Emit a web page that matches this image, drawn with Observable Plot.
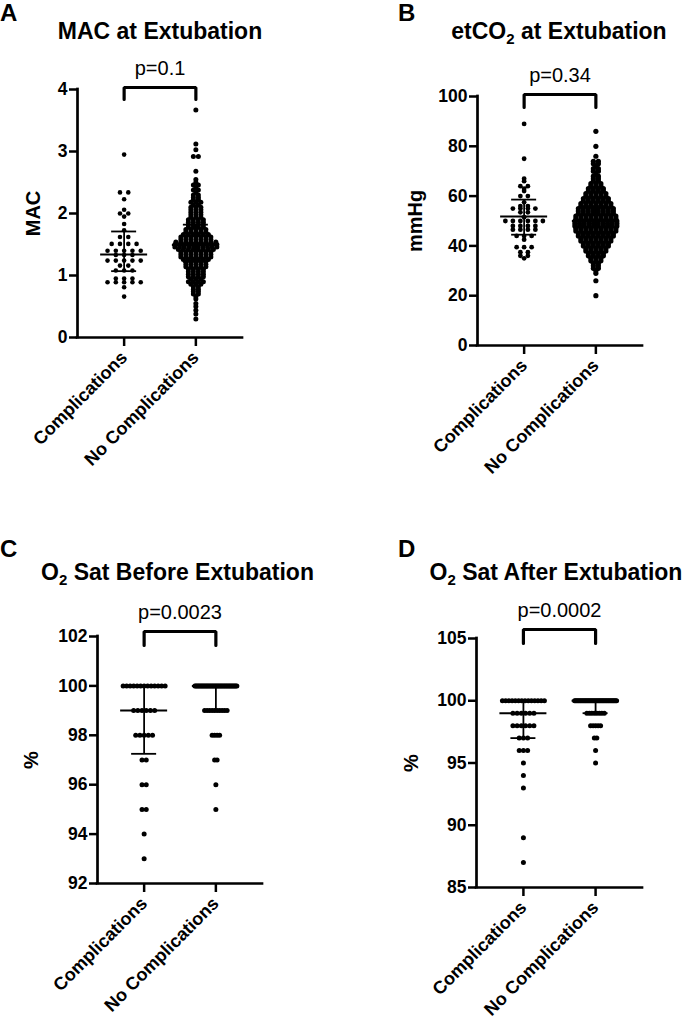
<!DOCTYPE html>
<html>
<head>
<meta charset="utf-8">
<script src="https://cdn.jsdelivr.net/npm/d3@7"></script>
<script src="https://cdn.jsdelivr.net/npm/@observablehq/plot@0.6"></script>
<style>
  body { margin: 0; background: #fff; }
  #root { position: relative; width: 685px; height: 1025px; overflow: hidden; background: #fff;
          font-family: "Liberation Sans", Arial, sans-serif; }
  .panel { position: absolute; }
  .panel svg { overflow: visible; }
  #overlay { position: absolute; left: 0; top: 0; pointer-events: none; }
</style>
</head>
<body>
<div id="root"></div>
<script>
// ---------- data ----------
const categories = ["Complications", "No Complications"];
const panelLetters = ["A", "B", "C", "D"];
const pValues = ["p=0.1", "p=0.34", "p=0.0023", "p=0.0002"];

// Panel A: MAC at Extubation (value rows and number of dots in each row)
const aCompValues = [2.95, 2.34, 2.23, 2.06, 2.00, 1.95, 1.83, 1.73, 1.62, 1.51, 1.40, 1.33, 1.24, 1.16, 1.08, 0.95, 0.89, 0.81, 0.66];
const aCompCounts = [1, 2, 1, 1, 2, 1, 1, 1, 2, 4, 5, 3, 5, 2, 3, 3, 5, 1, 1];
const aNoCompValues = [3.67, 3.12, 3.03, 2.92, 2.68, 2.55, 2.50, 2.46, 2.42, 2.38, 2.34, 2.30, 2.26, 2.22, 2.18, 2.14, 2.10, 2.06, 2.02, 1.98, 1.94, 1.90, 1.86, 1.82, 1.78, 1.74, 1.70, 1.66, 1.62, 1.58, 1.54, 1.50, 1.46, 1.42, 1.38, 1.34, 1.30, 1.26, 1.22, 1.18, 1.14, 1.10, 1.06, 1.02, 0.98, 0.94, 0.90, 0.86, 0.82, 0.78, 0.74, 0.70, 0.66, 0.62, 0.55, 0.50, 0.44, 0.38, 0.30];
const aNoCompCounts = [1, 1, 1, 2, 1, 1, 1, 2, 1, 2, 1, 2, 2, 2, 3, 2, 3, 3, 3, 3, 3, 4, 4, 4, 4, 5, 5, 6, 7, 7, 9, 10, 10, 8, 7, 7, 7, 6, 5, 5, 5, 4, 4, 4, 4, 3, 4, 3, 2, 2, 2, 2, 1, 1, 1, 1, 1, 1, 1];
const aMedian = [1.34, 1.49];
const aQ1 = [1.07, 1.22];
const aQ3 = [1.71, 1.82];
const aTicks = [0, 1, 2, 3, 4];

// Panel B: etCO2 at Extubation (mmHg)
const bCompValues = [89, 75, 67, 66, 64, 63, 62, 60, 57.5, 56, 55, 53.5, 51.5, 50, 48, 46.5, 44, 42.5, 39.5, 37.5, 36, 35];
const bCompCounts = [1, 1, 1, 1, 2, 1, 1, 2, 1, 2, 4, 2, 1, 6, 4, 4, 3, 1, 3, 2, 2, 1];
const bNoCompValues = [86, 80, 76, 74, 73, 72, 71, 70, 69, 68, 67, 66, 65, 64, 63, 62, 61, 60, 59, 58, 57, 56, 55, 54, 53, 52, 51, 50, 49, 48, 47, 46, 45, 44, 43, 42, 41, 40, 39, 38, 37, 36, 35, 34, 33, 32, 31, 30, 29, 26, 20];
const bNoCompCounts = [1, 1, 1, 2, 2, 1, 2, 2, 1, 2, 2, 2, 3, 3, 4, 4, 5, 5, 6, 6, 7, 7, 8, 8, 8, 9, 9, 10, 10, 10, 9, 9, 8, 8, 7, 7, 6, 6, 5, 5, 4, 4, 3, 3, 2, 2, 2, 1, 1, 1, 1];
const bMedian = [51.8, 50];
const bQ1 = [44.5, 45];
const bQ3 = [58.6, 56];
const bTicks = [0, 20, 40, 60, 80, 100];

// Panel C: O2 Sat Before Extubation (%)
const cCompValues = [100, 99, 98, 97, 96, 95, 94, 93];
const cCompCounts = [13, 6, 5, 2, 2, 2, 1, 1];
const cNoCompValues = [100, 99, 98, 97, 96, 95];
const cNoCompCounts = [40, 10, 4, 2, 1, 1];
const cMedian = [99, 100];
const cQ1 = [97.25, 99];
const cQ3 = [100, 100];
const cTicks = [92, 94, 96, 98, 100, 102];

// Panel D: O2 Sat After Extubation (%)
const dCompValues = [100, 99, 98, 97, 96, 95, 94, 93, 89, 87];
const dCompCounts = [14, 6, 6, 3, 3, 1, 1, 1, 1, 1];
const dNoCompValues = [100, 99, 98, 97, 96, 95];
const dNoCompCounts = [40, 8, 5, 2, 1, 1];
const dMedian = [99, 100];
const dQ1 = [97, 99];
const dQ3 = [100, 100];
const dTicks = [85, 90, 95, 100, 105];

// ---------- layout ----------
const FONT = '"Liberation Sans", Arial, sans-serif';
const X_DOMAIN = [-0.65, 1.65];
const MAX_SPREAD = 42;   // px, centre-to-centre width of a dot row
const MED_HALF_PX = 23.5;
const Q_HALF_PX = 12.5;

const panels = [
  { title: ["MAC at Extubation"], titleX: 160, titleY: 39, letterX: 0, letterY: 21,
    left: 0, top: 42, w: 342, h: 460, x0: 77, x1: 242, yTop: 89, yBot: 337,
    yDomain: [0, 4], ticks: aTicks, label: "MAC", labelOffset: 52, r: [2.3, 2.5],
    spacing: [8.3, 5], brTop: 2, brLeg: 12,
    groups: [[aCompValues, aCompCounts], [aNoCompValues, aNoCompCounts]],
    med: aMedian, q1: aQ1, q3: aQ3 },
  { title: ["etCO", "2", " at Extubation"], titleX: 559, titleY: 39, letterX: 398, letterY: 21,
    left: 340, top: 42, w: 345, h: 460, x0: 477, x1: 642, yTop: 96, yBot: 345,
    yDomain: [0, 100], ticks: bTicks, label: "mmHg", labelOffset: 70, r: [2.4, 2.6],
    spacing: [7.5, 5], brTop: 2, brLeg: 13,
    groups: [[bCompValues, bCompCounts], [bNoCompValues, bNoCompCounts]],
    med: bMedian, q1: bQ1, q3: bQ3 },
  { title: ["O", "2", " Sat Before Extubation"], titleX: 177.5, titleY: 580, letterX: 0, letterY: 557,
    left: 0, top: 590, w: 342, h: 435, x0: 97, x1: 262, yTop: 636, yBot: 883,
    yDomain: [92, 102], ticks: cTicks, label: "%", labelOffset: 74, r: [2.5, 2.5],
    spacing: [4.2, 2.5], brTop: 5, brLeg: 14,
    groups: [[cCompValues, cCompCounts], [cNoCompValues, cNoCompCounts]],
    med: cMedian, q1: cQ1, q3: cQ3 },
  { title: ["O", "2", " Sat After Extubation"], titleX: 556, titleY: 580, letterX: 398, letterY: 557,
    left: 340, top: 590, w: 345, h: 435, x0: 476, x1: 642, yTop: 638, yBot: 887,
    yDomain: [85, 105], ticks: dTicks, label: "%", labelOffset: 73, r: [2.5, 2.5],
    spacing: [4.2, 2.5], brTop: 9, brLeg: 14,
    groups: [[dCompValues, dCompCounts], [dNoCompValues, dNoCompCounts]],
    med: dMedian, q1: dQ1, q3: dQ3 }
];

// Column-scatter layout: dots with the same value share a row, spread symmetrically
function swarm(values, counts, catIndex, spacingPx, pxPerUnit, r) {
  const out = [];
  values.forEach((v, j) => {
    const n = counts[j];
    const s = n > 1 ? Math.min(spacingPx, MAX_SPREAD / (n - 1)) : 0;
    for (let i = 0; i < n; i++) {
      out.push({ x: catIndex + ((i - (n - 1) / 2) * s) / pxPerUnit, y: v, r, group: categories[catIndex] });
    }
  });
  return out;
}

const root = document.getElementById("root");

panels.forEach((cfg, k) => {
  const pxX = (cfg.x1 - cfg.x0) / (X_DOMAIN[1] - X_DOMAIN[0]);
  const pxY = (cfg.yBot - cfg.yTop) / (cfg.yDomain[1] - cfg.yDomain[0]);
  const dots = cfg.groups.flatMap(([vals, cnts], i) => swarm(vals, cnts, i, cfg.spacing[i], pxX, cfg.r[i]));
  const stats = [0, 1].map(i => ({ x: i, med: cfg.med[i], q1: cfg.q1[i], q3: cfg.q3[i] }));
  const medHalf = MED_HALF_PX / pxX, qHalf = Q_HALF_PX / pxX;
  const brTop = cfg.yDomain[1] + cfg.brTop / pxY;
  const brLeg = brTop - cfg.brLeg / pxY;

  const chart = Plot.plot({
    width: cfg.w,
    height: cfg.h,
    marginLeft: cfg.x0 - cfg.left,
    marginRight: cfg.left + cfg.w - cfg.x1,
    marginTop: cfg.yTop - cfg.top,
    marginBottom: cfg.top + cfg.h - cfg.yBot,
    x: { domain: X_DOMAIN },
    y: { domain: cfg.yDomain },
    r: { type: "identity" },
    style: { fontFamily: FONT, color: "black", background: "transparent", overflow: "visible" },
    marks: [
      Plot.axisY({ ticks: cfg.ticks, tickSize: 8, tickPadding: 2, tickFormat: d => String(d),
        fontSize: 17.5, fontWeight: "bold", strokeWidth: 2.5, label: null }),
      Plot.axisX({ ticks: [0, 1], tickFormat: i => categories[i], tickRotate: -45,
        tickSize: 9, tickPadding: 8, fontSize: 18, fontWeight: "bold", strokeWidth: 2.5, label: null }),
      Plot.text([cfg.label], { text: d => d, frameAnchor: "left", rotate: -90, dx: -cfg.labelOffset,
        lineAnchor: "top", textAnchor: "middle", fontSize: 20, fontWeight: "bold" }),
      Plot.ruleX([X_DOMAIN[0]], { strokeWidth: 2.7, strokeLinecap: "square" }),
      Plot.ruleY([cfg.yDomain[0]], { strokeWidth: 2.7, strokeLinecap: "square" }),
      Plot.dot(dots, { x: "x", y: "y", r: "r", fill: "black", stroke: "none" }),
      Plot.ruleX(stats, { x: "x", y1: "q1", y2: "q3", strokeWidth: 1.8 }),
      Plot.ruleY(stats, { y: "med", x1: d => d.x - medHalf, x2: d => d.x + medHalf, strokeWidth: 2 }),
      Plot.ruleY(stats, { y: "q1", x1: d => d.x - qHalf, x2: d => d.x + qHalf, strokeWidth: 1.8 }),
      Plot.ruleY(stats, { y: "q3", x1: d => d.x - qHalf, x2: d => d.x + qHalf, strokeWidth: 1.8 }),
      Plot.line([[0, brLeg], [0, brTop], [1, brTop], [1, brLeg]], { strokeWidth: 3.2, strokeLinejoin: "miter" }),
      Plot.text([pValues[k]], { x: () => 0.5, y: () => brTop, text: d => d, dy: -13, lineAnchor: "bottom",
        fontSize: 20, fontWeight: "normal" })
    ]
  });
  const div = document.createElement("div");
  div.className = "panel";
  div.style.left = cfg.left + "px";
  div.style.top = cfg.top + "px";
  div.appendChild(chart);
  root.appendChild(div);
});

// Overlay: panel letters and titles
const NS = "http://www.w3.org/2000/svg";
const overlay = document.createElementNS(NS, "svg");
overlay.setAttribute("id", "overlay");
overlay.setAttribute("width", 685);
overlay.setAttribute("height", 1025);
panels.forEach((cfg, k) => {
  const letter = document.createElementNS(NS, "text");
  letter.setAttribute("x", cfg.letterX);
  letter.setAttribute("y", cfg.letterY);
  letter.setAttribute("font-size", 24);
  letter.setAttribute("font-weight", "bold");
  letter.setAttribute("font-family", FONT);
  letter.textContent = panelLetters[k];
  overlay.appendChild(letter);

  const t = document.createElementNS(NS, "text");
  t.setAttribute("x", cfg.titleX);
  t.setAttribute("y", cfg.titleY);
  t.setAttribute("text-anchor", "middle");
  t.setAttribute("font-size", 23);
  t.setAttribute("font-weight", "bold");
  t.setAttribute("font-family", FONT);
  if (cfg.title.length === 1) {
    t.textContent = cfg.title[0];
  } else {
    const s1 = document.createElementNS(NS, "tspan"); s1.textContent = cfg.title[0];
    const s2 = document.createElementNS(NS, "tspan"); s2.textContent = cfg.title[1];
    s2.setAttribute("font-size", 15); s2.setAttribute("dy", 5);
    const s3 = document.createElementNS(NS, "tspan"); s3.textContent = cfg.title[2];
    s3.setAttribute("dy", -5);
    t.append(s1, s2, s3);
  }
  overlay.appendChild(t);
});
root.appendChild(overlay);
</script>
</body>
</html>
